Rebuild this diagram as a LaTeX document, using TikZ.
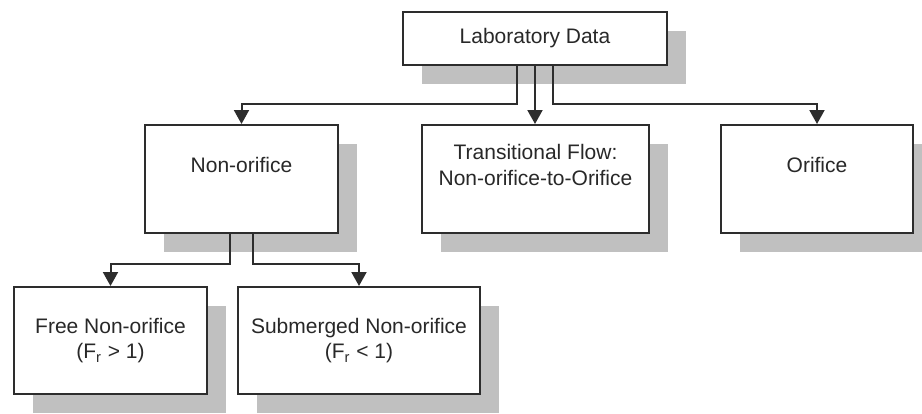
\documentclass[tikz,border=0pt]{standalone}
\usepackage{fontspec}
\setmainfont{Liberation Sans}
\usetikzlibrary{arrows.meta,shadows}
\definecolor{edge}{RGB}{45,45,45}
\definecolor{shade}{RGB}{192,192,192}
\definecolor{ink}{RGB}{40,40,40}
\begin{document}
\begin{tikzpicture}[x=0.5pt,y=-0.5pt,
  box/.style={draw=edge, line width=1pt, fill=white, inner sep=0pt,
    drop shadow={shadow xshift=9.5pt, shadow yshift=-9.5pt, fill=shade, opacity=1}},
  label/.style={text=ink, align=center, inner sep=0pt,
    font=\fontsize{10.5}{12.8}\selectfont},
  link/.style={draw=edge, line width=1pt, -{Triangle[width=7.5pt,length=7pt]}}]
  \path[use as bounding box, clip] (0,0) rectangle (922,413);

  % boxes
  \node[box, minimum width=132pt, minimum height=26.5pt] (lab)   at (535,38.5)  {};
  \node[box, minimum width=96.5pt, minimum height=54pt]  (non)   at (241.5,179) {};
  \node[box, minimum width=113.5pt, minimum height=54pt] (trans) at (535.5,179) {};
  \node[box, minimum width=96pt, minimum height=54pt]    (orif)  at (817,179)   {};
  \node[box, minimum width=96.5pt, minimum height=53.5pt] (free) at (110.5,340.5) {};
  \node[box, minimum width=121pt, minimum height=53.5pt]  (sub)  at (359,340.5)   {};

  % texts
  \node[label] (labT)   at (lab)         {Laboratory Data};
  \node[label] (nonT)   at (241.5,165)   {Non-orifice};
  \node[label] (transT) at (535.5,165)   {Transitional Flow:\\Non-orifice-to-Orifice};
  \node[label] (orifT)  at (817,165)     {Orifice};
  \node[label] (freeT)  at (free)        {Free Non-orifice\\(F\textsubscript{r} > 1)};
  \node[label] (subT)   at (sub)         {Submerged Non-orifice\\(F\textsubscript{r} < 1)};

  % connectors
  \draw[link] ([xshift=-9pt]lab.south) -- ++(0,38) -| (non.north);
  \draw[link] (lab.south) -- (lab.south |- trans.north);
  \draw[link] ([xshift=9pt]lab.south) -- ++(0,38) -| (orif.north);
  \draw[link] ([xshift=-5.75pt]non.south) -- ++(0,30) -| (free.north);
  \draw[link] ([xshift=5.75pt]non.south) -- ++(0,30) -| (sub.north);
\end{tikzpicture}
\end{document}
